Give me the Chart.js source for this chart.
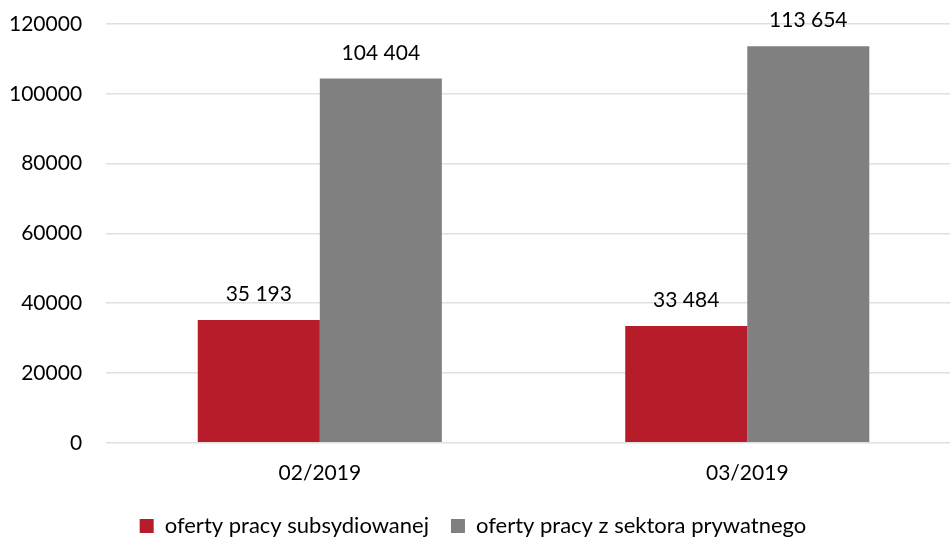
<!DOCTYPE html>
<html>
<head>
<meta charset="utf-8">
<script src="https://cdn.jsdelivr.net/npm/chart.js@4"></script>
<style>
  html, body { margin: 0; padding: 0; background: #fff; overflow: hidden; }
  #wrap { width: 961px; height: 537px; }
</style>
</head>
<body>
<div id="wrap"><canvas id="myChart"></canvas></div>
<script>
const months = ['02/2019', '03/2019'];
const subsidised = [35193, 33484];
const privateSector = [104404, 113654];
const yTicks = [0, 20000, 40000, 60000, 80000, 100000, 120000];

const ctx = document.getElementById('myChart');
Chart.defaults.font.family = 'Lato, "Open Sans", sans-serif';
Chart.defaults.color = '#000';

function fmt(v) {
    return String(v).replace(/\B(?=(\d{3})+(?!\d))/g, ' ');
}

// labels above each bar
const barLabels = {
    id: 'barLabels',
    afterDatasetsDraw(chart) {
        const c = chart.ctx;
        c.save();
        c.font = '21px Lato, "Open Sans", sans-serif';
        c.fillStyle = '#000';
        c.textAlign = 'center';
        c.textBaseline = 'bottom';
        chart.data.datasets.forEach(function(ds, i) {
            chart.getDatasetMeta(i).data.forEach(function(bar, j) {
                c.fillText(fmt(ds.data[j]), bar.x, bar.y - 15);
            });
        });
        c.restore();
    }
};

new Chart(ctx, {
    type: 'bar',
    data: {
        labels: months,
        datasets: [{
            label: 'oferty pracy subsydiowanej',
            data: subsidised,
            backgroundColor: '#B71C2B',
            categoryPercentage: 0.571,
            barPercentage: 1.0
        }, {
            label: 'oferty pracy z sektora prywatnego',
            data: privateSector,
            backgroundColor: '#808080',
            categoryPercentage: 0.571,
            barPercentage: 1.0
        }]
    },
    options: {
        responsive: true,
        maintainAspectRatio: false,
        animation: false,
        layout: { padding: { top: 24, right: 0, left: -15, bottom: -10 } },
        plugins: {
            legend: {
                position: 'bottom',
                labels: {
                    boxWidth: 14,
                    boxHeight: 14,
                    padding: 22,
                    font: { size: 22 }
                }
            },
            tooltip: { enabled: false }
        },
        scales: {
            x: {
                grid: { display: false },
                border: { display: false },
                ticks: { font: { size: 21 }, padding: 10 },
                afterFit(axis) { axis.height -= 3; }
            },
            y: {
                min: 0,
                max: 120000,
                afterBuildTicks(axis) {
                    axis.ticks = yTicks.map(v => ({ value: v }));
                },
                afterFit(axis) { axis.paddingTop = 0; },
                grid: { color: '#e0e0e0', lineWidth: 1.5, drawTicks: false },
                border: { display: false },
                ticks: {
                    font: { size: 21 },
                    padding: 24,
                    callback: v => String(v)
                }
            }
        }
    },
    plugins: [barLabels]
});
</script>
</body>
</html>
